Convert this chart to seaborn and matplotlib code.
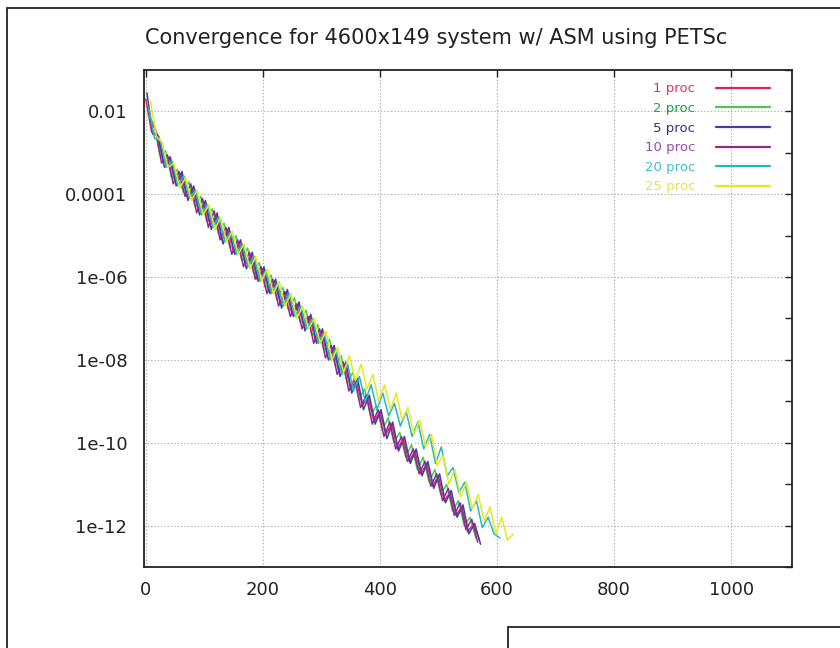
import numpy as np
import pandas as pd
import matplotlib.pyplot as plt
import seaborn as sns
from matplotlib.patches import Rectangle
from matplotlib.lines import Line2D

# residual history, stored as log10(residual), one sample every 10 iterations
procs = ["1 proc", "2 proc", "5 proc", "10 proc", "20 proc", "25 proc"]
first_iter = [0, 4, 2, 7, 5, 8]
step = 10

res_1 = [-1.7, -2.5, -2.55, -3.25, -3.1, -3.7, -3.5, -4.05, -3.85, -4.4,
         -4.2, -4.75, -4.5, -5.1, -4.85, -5.4, -5.15, -5.7, -5.45, -6.05,
         -5.8, -6.35, -6.1, -6.65, -6.35, -6.9, -6.65, -7.2, -6.95, -7.55,
         -7.3, -7.9, -7.7, -8.3, -8.1, -8.7, -8.5, -9.1, -8.9, -9.5,
         -9.25, -9.8, -9.55, -10.15, -9.9, -10.45, -10.2, -10.75, -10.5, -11.05,
         -10.8, -11.4, -11.2, -11.75, -11.55, -12.15, -11.95, -12.35]
res_2 = [-2.1, -2.3, -3.05, -2.95, -3.6, -3.4, -3.95, -3.7, -4.3, -4.05,
         -4.65, -4.35, -4.95, -4.7, -5.3, -5.0, -5.6, -5.3, -5.9, -5.65,
         -6.25, -5.95, -6.55, -6.25, -6.8, -6.5, -7.1, -6.8, -7.4, -7.15,
         -7.75, -7.5, -8.15, -7.9, -8.55, -8.3, -8.95, -8.7, -9.35, -9.1,
         -9.7, -9.4, -10.0, -9.75, -10.35, -10.05, -10.65, -10.35, -10.95, -10.65,
         -11.25, -11.0, -11.65, -11.4, -12.0, -11.8, -12.3]
res_5 = [-1.55, -2.55, -2.6, -3.35, -3.1, -3.8, -3.45, -4.15, -3.8, -4.5,
         -4.15, -4.85, -4.45, -5.2, -4.8, -5.45, -5.1, -5.8, -5.4, -6.1,
         -5.75, -6.4, -6.05, -6.75, -6.3, -6.95, -6.6, -7.3, -6.9, -7.6,
         -7.25, -8.0, -7.65, -8.4, -8.05, -8.8, -8.45, -9.2, -8.85, -9.55,
         -9.2, -9.9, -9.5, -10.2, -9.85, -10.5, -10.15, -10.8, -10.45, -11.1,
         -10.75, -11.45, -11.15, -11.8, -11.5, -12.2, -11.95, -12.45]
res_10 = [-2.2, -2.45, -3.25, -3.05, -3.75, -3.45, -4.05, -3.75, -4.45, -4.1,
          -4.8, -4.4, -5.1, -4.8, -5.45, -5.1, -5.75, -5.4, -6.05, -5.75,
          -6.4, -6.05, -6.7, -6.35, -6.95, -6.65, -7.25, -6.95, -7.6, -7.25,
          -7.95, -7.65, -8.35, -8.05, -8.75, -8.45, -9.15, -8.85, -9.55, -9.2,
          -9.85, -9.5, -10.15, -9.85, -10.45, -10.15, -10.75, -10.45, -11.05, -10.75,
          -11.4, -11.1, -11.75, -11.45, -12.1, -11.85, -12.4]
res_20 = [-1.9, -2.65, -2.7, -3.35, -3.2, -3.8, -3.55, -4.1, -3.9, -4.5,
          -4.25, -4.8, -4.55, -5.15, -4.9, -5.45, -5.2, -5.75, -5.5, -6.1,
          -5.85, -6.4, -6.15, -6.7, -6.4, -6.95, -6.7, -7.25, -7.0, -7.6,
          -7.35, -8.0, -7.75, -8.35, -8.1, -8.75, -8.4, -9.0, -8.6, -9.2,
          -8.8, -9.35, -9.05, -9.6, -9.25, -9.85, -9.5, -10.15, -9.8, -10.5,
          -10.1, -10.8, -10.6, -11.2, -10.95, -11.65, -11.4, -12.05, -11.8, -12.2,
          -12.3]
res_25 = [-1.75, -2.6, -2.75, -3.35, -3.25, -3.85, -3.6, -4.15, -3.9, -4.5,
          -4.25, -4.85, -4.55, -5.15, -4.9, -5.45, -5.2, -5.8, -5.5, -6.1,
          -5.8, -6.4, -6.1, -6.7, -6.4, -7.0, -6.7, -7.25, -7.0, -7.6,
          -7.3, -8.0, -7.7, -8.3, -7.9, -8.5, -8.1, -8.7, -8.35, -9.0,
          -8.6, -9.2, -8.8, -9.45, -9.15, -9.8, -9.45, -10.1, -9.8, -10.55,
          -10.3, -11.0, -10.65, -11.3, -10.95, -11.6, -11.25, -11.9, -11.55, -12.2,
          -11.8, -12.35, -12.2]

line_colors = ["#e0205a", "#4cc84c", "#4040a0", "#902890", "#20b8c8", "#e8e820"]
text_colors = ["#e0306a", "#20a040", "#30308a", "#9a4aa8", "#40c0c8", "#f0e040"]

y_ticks = [1e-2, 1e-4, 1e-6, 1e-8, 1e-10, 1e-12]
y_tick_labels = ["0.01", "0.0001", "1e-06", "1e-08", "1e-10", "1e-12"]
x_ticks = [0, 200, 400, 600, 800, 1000]

frames = []
for name, start, vals in zip(procs, first_iter,
                             [res_1, res_2, res_5, res_10, res_20, res_25]):
    frames.append(pd.DataFrame({
        "iteration": range(start, start + step * len(vals), step),
        "residual": 10.0 ** np.array(vals),
        "run": name,
    }))
df = pd.concat(frames, ignore_index=True)

sns.set_style("white")
plt.rcParams['font.family'] = ['DejaVu Sans']

fig = plt.figure(figsize=(8.4, 6.48), dpi=100)
ax = fig.add_axes([0.1714, 0.125, 0.7714, 0.767])

sns.lineplot(data=df, x="iteration", y="residual", hue="run",
             palette=dict(zip(procs, line_colors)), estimator=None, sort=False,
             linewidth=1.1, ax=ax, legend=False)

ax.set_yscale("log")
ax.set_xlim(-3, 1104)
ax.set_ylim(1e-13, 1e-1)
ax.set_xlabel("")
ax.set_ylabel("")

ax.set_xticks(x_ticks)
ax.set_xticklabels([str(t) for t in x_ticks])
ax.set_yticks(y_ticks)
ax.set_yticklabels(y_tick_labels)
ax.set_yticks([10.0 ** e for e in range(-13, 0, 2)], minor=True)
ax.yaxis.set_minor_formatter(plt.NullFormatter())

ax.tick_params(axis="both", which="both", direction="in", top=True, right=True,
               length=5, width=1, color="#222222")
ax.tick_params(axis="y", which="major", labelsize=13, pad=12, labelcolor="#222222")
ax.tick_params(axis="x", which="major", labelsize=13, pad=10, labelcolor="#222222")

ax.grid(True, which="major", linestyle=(0, (1, 2)), color="#a0a0a0", linewidth=0.8)
for sp in ax.spines.values():
    sp.set_color("#222222")
    sp.set_linewidth(1.3)

# gnuplot-style key: label on the left, right-aligned against the sample line
handles = [Line2D([0], [0], color=c, lw=1.6) for c in line_colors]
leg = ax.legend(handles, procs, loc="upper right", bbox_to_anchor=(0.985, 0.999),
                frameon=False, markerfirst=False, fontsize=9.5, handlelength=4.1,
                handletextpad=1.6, labelspacing=0.5)
for t, c in zip(leg.get_texts(), text_colors):
    t.set_color(c)

fig.text(0.519, 0.941, "Convergence for 4600x149 system w/ ASM using PETSc",
         ha="center", va="center", fontsize=15, color="#222222")

# page frame from the scanned figure
fig.add_artist(Rectangle((7 / 840, -0.1), 1.2, 1 - 8 / 648 + 0.1, transform=fig.transFigure,
                         fill=False, edgecolor="#222222", linewidth=1.3))
fig.add_artist(Rectangle((508 / 840, -0.1), 0.6, 0.1 + 21 / 648, transform=fig.transFigure,
                         fill=False, edgecolor="#222222", linewidth=1.3))

plt.savefig("out.png", dpi=100)
